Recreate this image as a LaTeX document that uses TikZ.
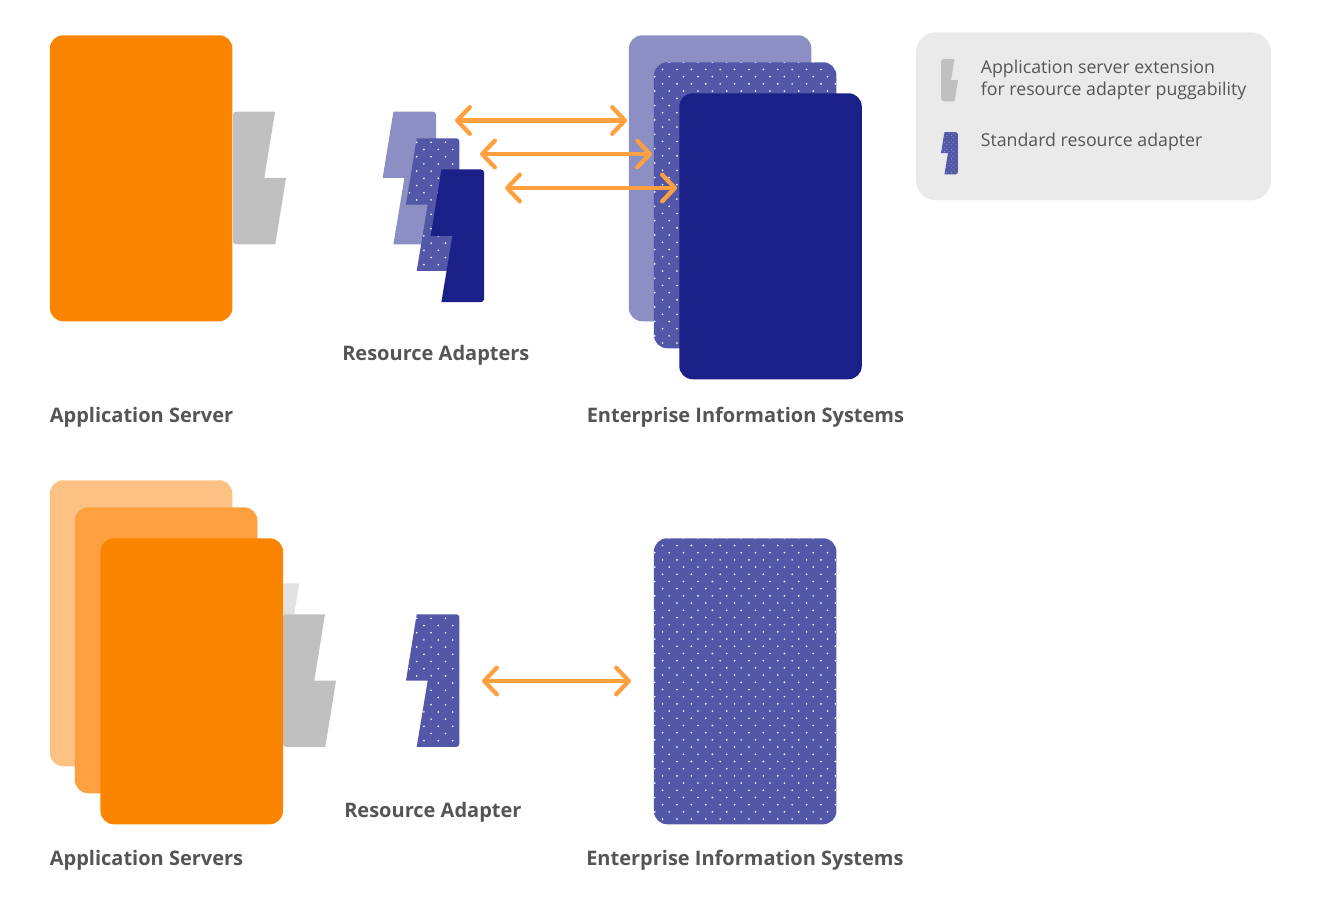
\documentclass[tikz,border=0pt]{standalone}
\usepackage{fontspec}
\setmainfont{Open Sans}
\usetikzlibrary{arrows.meta}
\definecolor{srvorange}{HTML}{FB8500}
\definecolor{midorange}{HTML}{FFA040}
\definecolor{paleorange}{HTML}{FDC183}
\definecolor{deepblue}{HTML}{1A2088}
\definecolor{dotblue}{HTML}{5257A8}
\definecolor{paleblue}{HTML}{8C8FC4}
\definecolor{extgrey}{HTML}{C0C0C0}
\definecolor{fadegrey}{HTML}{E2E2E2}
\definecolor{legendgrey}{HTML}{EAEAEA}
\definecolor{labelgrey}{HTML}{555555}
\tikzset{
  card/.style={anchor=north west,inner sep=0pt,minimum width=136.9pt,minimum height=214.5pt,rounded corners=10pt},
  dotcard/.style={card,fill=dotblue,path picture={
      \foreach \i in {0,...,13}
        \foreach \j in {0,...,20} {
          \fill[white] ([shift={(15.3+14.4*\i-14.4,14.4*\j)}]path picture bounding box.north west) circle (0.92);
          \fill[white] ([shift={(8.7+14.4*\i,7.2+14.4*\j)}]path picture bounding box.north west) circle (0.92);
        }
    }},
  biglabel/.style={anchor=base west,inner sep=0pt,text=labelgrey,font=\fontsize{15}{18}\selectfont\bfseries},
  keylabel/.style={anchor=base west,inner sep=0pt,text=labelgrey,font=\fontsize{13.3}{16}\selectfont},
  link/.style={midorange,line width=3.2pt,{Straight Barb[length=9.5pt,width=20pt,round]}-{Straight Barb[length=9.5pt,width=20pt,round]}}
}
% x y scale colour
\newcommand{\plainbolt}[4]{
  \fill[#4,shift={(#1,#2)},scale=#3] (10.7,0) [rounded corners=2.2pt] -- (53.3,0) -- (53.3,132.6) [sharp corners] -- (10.7,132.6) -- (21.7,66.3) -- (0,66.3) -- cycle;
}
\newcommand{\dotbolt}[3]{
  \begin{scope}[shift={(#1,#2)},scale=#3]
    \clip (10.7,0) [rounded corners=2.2pt] -- (53.3,0) -- (53.3,132.6) [sharp corners] -- (10.7,132.6) -- (21.7,66.3) -- (0,66.3) -- cycle;
    \fill[dotblue] (0,0) rectangle (54,133);
    \foreach \i in {0,...,3}
      \foreach \j in {0,...,9} {
        \fill[white] (10.7+14.4*\i,4+14.4*\j) circle (0.92);
        \fill[white] (3.5+14.4*\i,11.2+14.4*\j) circle (0.92);
      }
  \end{scope}
}
\newcommand{\greybolt}[4]{
  \fill[#4,shift={(#1,#2)},scale=#3] (3,0) -- (42,0) -- (31.3,66.3) -- (53,66.3) -- (42.3,132.6) -- (3,132.6) [rounded corners=2.2pt] -- (0,132.6) -- (0,0) [sharp corners] -- cycle;
}
\begin{document}
\begin{tikzpicture}[x=0.75pt,y=-0.75pt]
  \useasboundingbox (0,0) rectangle (1321,916);
  % top row
  \greybolt{233}{111.7}{1}{extgrey}
  \node[card,fill=srvorange] (server) at (49.6,35) {};
  \plainbolt{382.7}{111.7}{1}{paleblue}
  \dotbolt{406}{138.3}{1}
  \plainbolt{430.7}{169.5}{1}{deepblue}
  \node[card,fill=paleblue] (eisa) at (628.6,35) {};
  \node[dotcard] (eisb) at (653.6,62) {};
  \node[card,fill=deepblue] (eisc) at (679,93) {};
  \coordinate (la) at (455,120.5);
  \coordinate (ra) at (627,120.5);
  \coordinate (lb) at (480,154);
  \coordinate (rb) at (652,154);
  \coordinate (lc) at (505,188);
  \coordinate (rc) at (677,188);
  \draw[link] (la) -- (ra);
  \draw[link] (lb) -- (rb);
  \draw[link] (lc) -- (rc);
  \node[biglabel] (adapterstitle) at (342,360) {Resource Adapters};
  \node[biglabel] (servertitle) at (49.6,422) {Application Server};
  \node[biglabel] (eistitle) at (586.5,422) {Enterprise Information Systems};
  % legend
  \node[anchor=north west,inner sep=0pt,minimum width=266.25pt,minimum height=126pt,rounded corners=15pt,fill=legendgrey] (legend) at (915.7,32) {};
  \greybolt{941}{59}{0.32}{extgrey}
  \dotbolt{941}{132}{0.32}
  \node[keylabel] (keyone) at (980.6,74) {Application server extension};
  \node[keylabel] (keytwo) at (980.6,95.5) {for resource adapter puggability};
  \node[keylabel] (keythree) at (980.6,146.5) {Standard resource adapter};
  % bottom row
  \greybolt{257.3}{583.3}{1}{fadegrey}
  \greybolt{283}{614.3}{1}{extgrey}
  \node[card,fill=paleorange] (servera) at (49.6,480) {};
  \node[card,fill=midorange] (serverb) at (74.6,507) {};
  \node[card,fill=srvorange] (serverc) at (100.2,538) {};
  \dotbolt{406}{614.3}{1}
  \node[dotcard] (eis) at (653.6,538) {};
  \coordinate (ld) at (482,681);
  \coordinate (rd) at (631,681);
  \draw[link] (ld) -- (rd);
  \node[biglabel] (adaptertitle) at (344,817) {Resource Adapter};
  \node[biglabel] (serverstitle) at (49.6,865) {Application Servers};
  \node[biglabel] (eisbtitle) at (586,865) {Enterprise Information Systems};
\end{tikzpicture}
\end{document}
